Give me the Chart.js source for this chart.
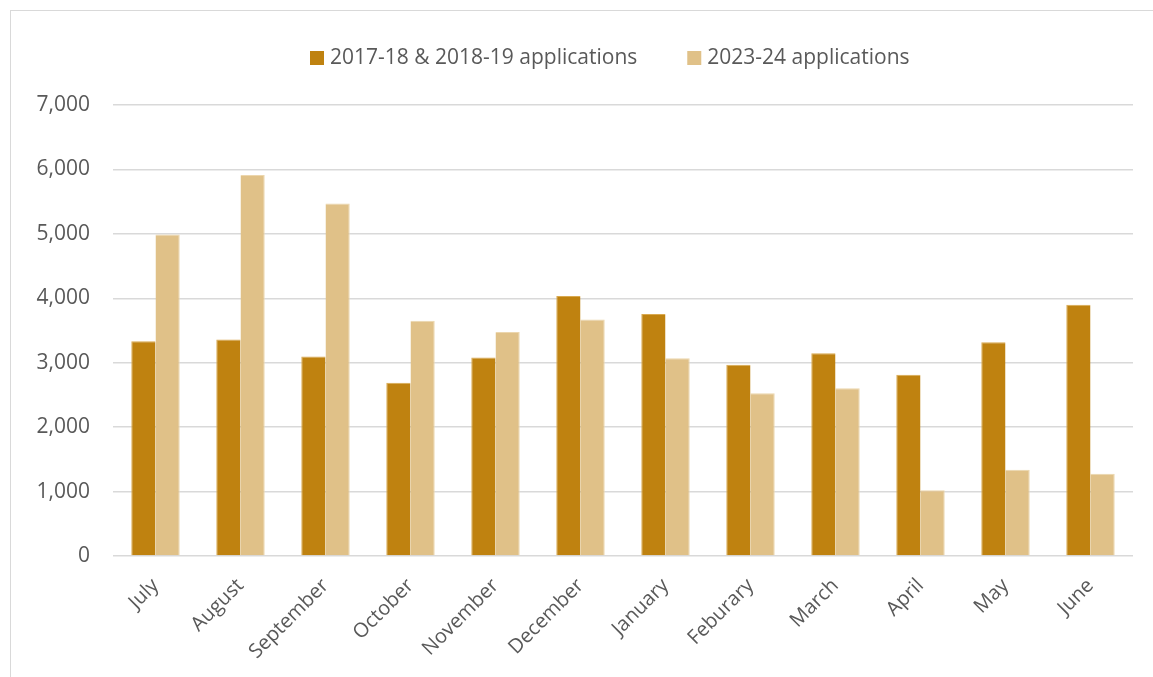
<!DOCTYPE html>
<html>
<head>
<meta charset="utf-8">
<script src="https://cdn.jsdelivr.net/npm/chart.js@4"></script>
<style>
    html, body { margin: 0; padding: 0; background: #fff; overflow: hidden; }
    #marco { position: absolute; left: 10px; top: 10px; width: 1160px; height: 700px; border: 1px solid #d9d9d9; }
    #lienzo { position: absolute; left: 0; top: 0; width: 1153px; height: 677px; }
</style>
</head>
<body>
<div id="marco"></div>
<div id="lienzo"><canvas id="solicitudes"></canvas></div>
<script>
const meses = ["July", "August", "September", "October", "November", "December", "January", "Feburary", "March", "April", "May", "June"];
const antes = [3335, 3360, 3095, 2690, 3082, 4035, 3755, 2970, 3148, 2815, 3318, 3900];
const ahora = [4990, 5915, 5470, 3650, 3475, 3670, 3070, 2525, 2605, 1020, 1340, 1278];
const marcasY = [0, 1000, 2000, 3000, 4000, 5000, 6000, 7000];

const grisTexto = "#595959";

// leyenda dibujada a mano: cuadro de color + texto, centrada arriba del gráfico
const leyenda = {
    id: "leyenda",
    afterDraw(chart) {
        const ctx = chart.ctx;
        const caja = 14, hueco = 6, separacion = 50, centro = 610, y = 58;
        ctx.save();
        ctx.font = "21px 'Open Sans'";
        ctx.textBaseline = "middle";
        const items = chart.data.datasets.map((d) => ({ texto: d.label, color: d.backgroundColor, ancho: ctx.measureText(d.label).width }));
        const total = items.reduce((s, it) => s + caja + hueco + it.ancho, 0) + separacion * (items.length - 1);
        let x = Math.round(centro - total / 2);
        items.forEach((it) => {
            ctx.fillStyle = it.color;
            ctx.fillRect(x, y - caja / 2, caja, caja);
            ctx.fillStyle = grisTexto;
            ctx.fillText(it.texto, x + caja + hueco, y);
            x += caja + hueco + it.ancho + separacion;
        });
        ctx.restore();
    },
};

new Chart(document.querySelector("#solicitudes").getContext("2d"), {
    type: "bar",
    data: {
        labels: meses,
        datasets: [
            { label: "2017-18 & 2018-19 applications", data: antes, backgroundColor: "#bf8210", borderColor: "#d9a94f", borderWidth: { top: 1, left: 1, right: 0, bottom: 0 } },
            { label: "2023-24 applications", data: ahora, backgroundColor: "#e0c188", borderColor: "#ecd6ad", borderWidth: { top: 1, left: 0, right: 1, bottom: 0 } },
        ],
    },
    options: {
        responsive: true,
        maintainAspectRatio: false,
        animation: false,
        categoryPercentage: 0.57,
        barPercentage: 1,
        layout: {
            padding: { left: 0, right: 20, top: 105, bottom: 0 },
        },
        scales: {
            x: {
                grid: { display: false },
                border: { display: false },
                ticks: {
                    color: grisTexto,
                    font: { family: "'Open Sans'", size: 20 },
                    minRotation: 45,
                    maxRotation: 45,
                    padding: 10,
                },
                afterFit: function (escala) { escala.height = 121; },
            },
            y: {
                min: 0,
                max: 7000,
                afterBuildTicks: function (escala) { escala.ticks = marcasY.map((v) => ({ value: v })); },
                grid: { color: "#d9d9d9", lineWidth: 1.5, drawTicks: false },
                border: { display: false },
                ticks: {
                    color: grisTexto,
                    font: { family: "'Open Sans'", size: 21 },
                    padding: 23,
                    callback: function (numero) { return numero.toLocaleString("en-US"); },
                },
                afterFit: function (escala) { escala.width = 113; },
            },
        },
        plugins: {
            legend: { display: false },
            tooltip: { enabled: false },
        },
    },
    plugins: [leyenda],
});
</script>
</body>
</html>
